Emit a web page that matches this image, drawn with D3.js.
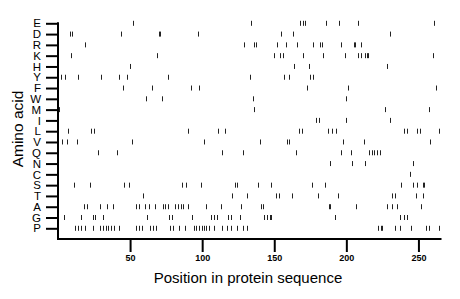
<!DOCTYPE html>
<html>
<head>
<meta charset="utf-8">
<script src="https://cdn.jsdelivr.net/npm/d3@7"></script>
<style>
  body { margin: 0; background: #fff; }
  svg { display: block; }
</style>
</head>
<body>
<div id="chart"></div>
<script>
// Amino acids, top to bottom
const aminoAcids = ["E", "D", "R", "K", "H", "Y", "F", "W", "M", "I", "L", "V", "Q", "N", "C", "S", "T", "A", "G", "P"];

// Positions of each residue in the sequence
const posE = [52, 134, 168, 170, 171, 186, 195, 208, 261];
const posD = [8, 10, 44, 70, 71, 97, 155, 163, 230];
const posR = [19, 129, 136, 137, 152, 158, 166, 177, 182, 183, 196, 205, 206, 210];
const posK = [9, 69, 150, 154, 156, 170, 184, 199, 208, 210, 213, 214, 215, 260];
const posH = [50, 164, 174, 228];
const posY = [2, 5, 14, 30, 42, 48, 76, 133, 157, 160, 175, 177];
const posF = [45, 65, 92, 98, 173, 201, 262];
const posW = [61, 72, 135, 200];
const posM = [1, 136, 227, 257];
const posI = [179, 181, 200, 230];
const posL = [7, 23, 25, 90, 111, 116, 167, 169, 187, 190, 193, 240, 242, 249, 251, 264];
const posV = [3, 6, 13, 51, 101, 140, 159, 160, 198, 212, 258];
const posQ = [28, 41, 114, 128, 165, 196, 203, 216, 218, 219, 221, 223];
const posN = [189, 204, 213, 246];
const posC = [244];
const posS = [11, 22, 46, 49, 86, 89, 99, 123, 124, 139, 148, 176, 185, 238, 246, 249, 253, 254];
const posT = [59, 121, 131, 151, 153, 162, 180, 194, 232, 234, 248, 253];
const posA = [18, 20, 29, 34, 38, 54, 56, 60, 63, 67, 73, 74, 76, 81, 83, 85, 87, 90, 103, 113, 127, 141, 142, 188, 189, 207, 228, 232, 235, 252];
const posG = [4, 16, 24, 26, 31, 62, 77, 79, 93, 106, 108, 110, 118, 120, 126, 143, 145, 147, 148, 192, 237, 240, 242];
const posP = [12, 14, 16, 19, 24, 29, 31, 33, 35, 37, 39, 42, 54, 56, 58, 64, 66, 68, 78, 80, 84, 88, 94, 96, 98, 100, 101, 103, 105, 108, 114, 117, 120, 124, 128, 131, 222, 224, 225, 234, 237, 245, 255, 257, 264];

const xTicks = [50, 100, 150, 200, 250];
const seqLength = 266;

const positions = { E: posE, D: posD, R: posR, K: posK, H: posH, Y: posY, F: posF, W: posW, M: posM, I: posI,
    L: posL, V: posV, Q: posQ, N: posN, C: posC, S: posS, T: posT, A: posA, G: posG, P: posP };

const width = 460, height = 299;
const margin = { top: 23, right: 18.5, bottom: 60, left: 58 };
const font = "Liberation Sans, Arial, sans-serif";

const svg = d3.select("#chart")
    .append("svg")
    .attr("width", width)
    .attr("height", height);

const x = d3.scaleLinear()
    .domain([0, seqLength])
    .range([margin.left, width - margin.right]);

const y = d3.scalePoint()
    .domain(aminoAcids)
    .range([margin.top + 0.3, 228.3]);

const axisY = 239;

// Residue marks
const marks = aminoAcids.flatMap(aa => positions[aa].map(p => ({ aa, p })));
svg.append("g")
    .attr("stroke", "#222")
    .attr("stroke-width", 1)
    .selectAll("line")
    .data(marks)
    .join("line")
    .attr("x1", d => Math.round(x(d.p)) + 0.5)
    .attr("x2", d => Math.round(x(d.p)) + 0.5)
    .attr("y1", d => y(d.aa) - 2.5)
    .attr("y2", d => y(d.aa) + 2.5);

// Y axis
const gy = svg.append("g")
    .attr("transform", `translate(${margin.left},0)`)
    .call(d3.axisLeft(y).tickSize(12).tickPadding(5));
gy.select(".domain").remove();
gy.selectAll(".tick line").attr("stroke", "#000").attr("stroke-width", 2);
gy.selectAll(".tick text")
    .attr("font-family", font)
    .attr("font-size", 11.5)
    .attr("fill", "#000");
svg.append("line")
    .attr("x1", margin.left).attr("x2", margin.left)
    .attr("y1", y("E") - 1).attr("y2", axisY)
    .attr("stroke", "#000").attr("stroke-width", 2);

// X axis
const gx = svg.append("g")
    .attr("transform", `translate(0,${axisY})`)
    .call(d3.axisBottom(x).tickValues(xTicks).tickSize(13).tickPadding(3));
gx.select(".domain").remove();
gx.selectAll(".tick line").attr("stroke", "#000").attr("stroke-width", 2);
gx.selectAll(".tick text")
    .attr("font-family", font)
    .attr("font-size", 9)
    .attr("font-weight", "bold")
    .attr("fill", "#000");
svg.append("line")
    .attr("x1", margin.left - 1).attr("x2", width - margin.right)
    .attr("y1", axisY).attr("y2", axisY)
    .attr("stroke", "#000").attr("stroke-width", 2);

// Axis titles
svg.append("text")
    .attr("x", 248)
    .attr("y", 283)
    .attr("text-anchor", "middle")
    .attr("font-family", font)
    .attr("font-size", 15)
    .text("Position in protein sequence");

svg.append("text")
    .attr("transform", "translate(23,129) rotate(-90)")
    .attr("text-anchor", "middle")
    .attr("font-family", font)
    .attr("font-size", 15.5)
    .text("Amino acid");
</script>
</body>
</html>
